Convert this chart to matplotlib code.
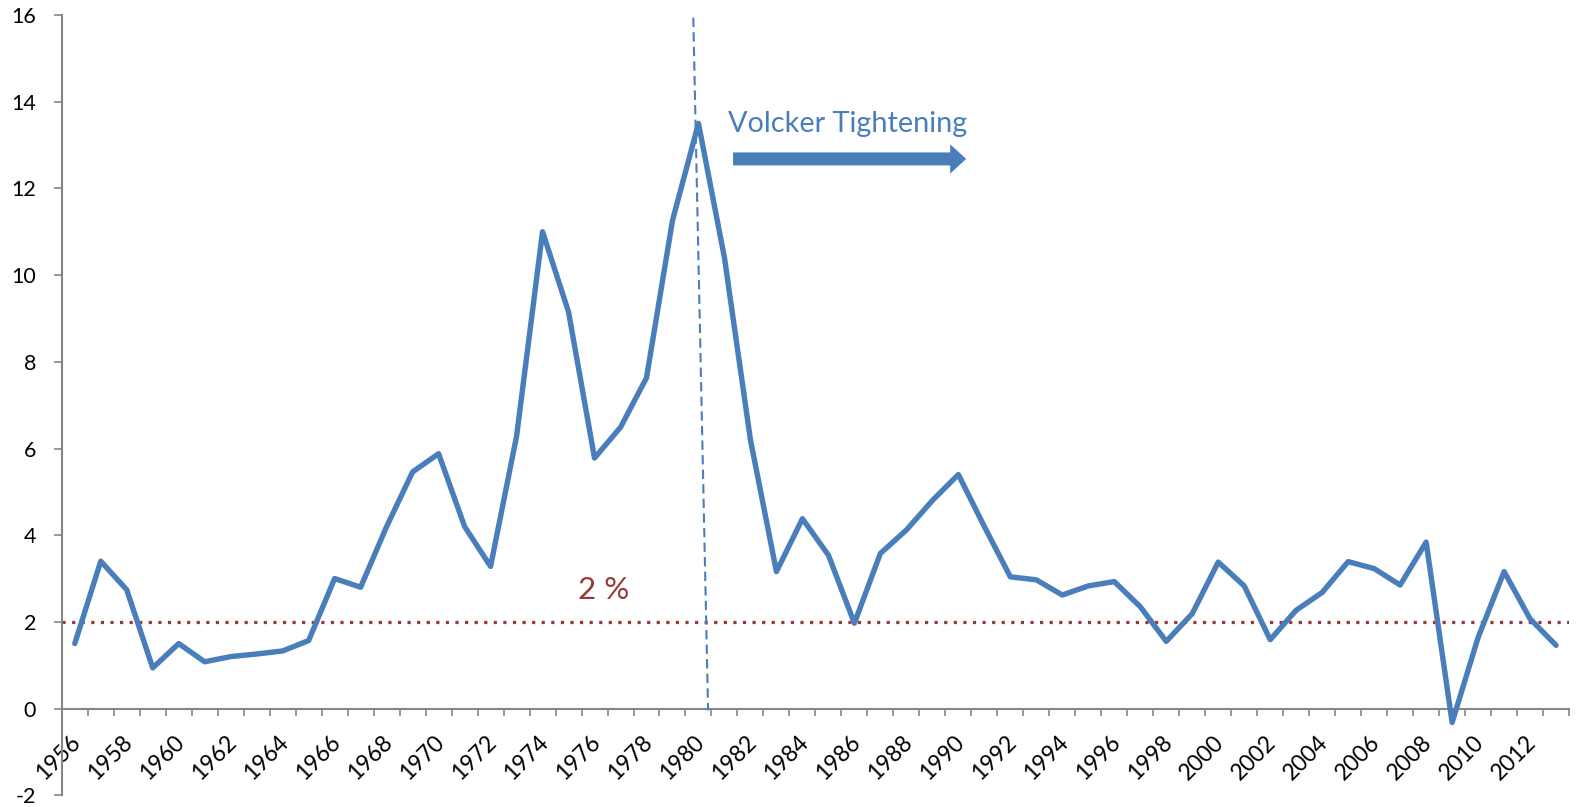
import matplotlib
matplotlib.use("Agg")
import matplotlib.pyplot as plt
from matplotlib.patches import FancyArrow
from matplotlib.transforms import ScaledTranslation

plt.rcParams["font.family"] = ["Lato", "DejaVu Sans"]

# annual inflation, %
years = list(range(1956, 2014))
inflation = [1.50, 3.40, 2.74, 0.94, 1.50, 1.08, 1.20, 1.26, 1.33, 1.57,
             3.00, 2.80, 4.20, 5.46, 5.88, 4.20, 3.28, 6.28, 11.00, 9.15,
             5.78, 6.49, 7.63, 11.26, 13.50, 10.40, 6.20, 3.16, 4.38, 3.54,
             1.97, 3.58, 4.12, 4.80, 5.40, 4.20, 3.04, 2.97, 2.62, 2.83,
             2.93, 2.35, 1.55, 2.19, 3.38, 2.83, 1.59, 2.27, 2.68, 3.39,
             3.23, 2.85, 3.84, -0.32, 1.64, 3.16, 2.07, 1.46]
target = 2.0
y_ticks = list(range(-2, 17, 2))

blue = "#4A7EBB"
red = "#973A37"
grey = "#868686"

fig = plt.figure(figsize=(15.92, 8.07), dpi=100)
ax = fig.add_axes([0.0388, 0.0145, 0.9468, 0.9669])

pos = list(range(len(years)))
ax.plot(pos, inflation, color=blue, lw=3.9, solid_joinstyle="round",
        solid_capstyle="round", zorder=3)
ax.axhline(target, color=red, lw=2.3, ls=(0, (1, 2)), zorder=2)

# Volcker marker line (slightly slanted as in the original)
ax.plot([23.8, 24.37], [15.94, -0.04], color=blue, lw=1.5,
        ls=(0, (4.5, 2.5)), zorder=4)

ax.text(20.35, 2.73, "2 %", color=red, fontsize=22.5, ha="center", va="center")
ax.text(25.15, 13.31, "Volcker Tightening", color=blue, fontsize=20.8,
        ha="left", va="baseline")
ax.add_patch(FancyArrow(25.33, 12.68, 8.97, 0, width=0.30, head_width=0.676,
                        head_length=0.615, length_includes_head=True,
                        color=blue, lw=0))

ax.set_xlim(-0.5, len(years) - 0.5)
ax.set_ylim(-2, 16)

for s in ["top", "right"]:
    ax.spines[s].set_visible(False)
ax.spines["bottom"].set_position(("data", 0))
for s in ["left", "bottom"]:
    ax.spines[s].set_color(grey)
    ax.spines[s].set_linewidth(1.5)

ax.set_yticks(y_ticks, [str(v) for v in y_ticks])
ax.tick_params(axis="y", direction="out", length=5.5, width=1.2, color=grey,
               pad=13, labelsize=15.5)

# tick marks between categories, labels on every second year
ax.set_xticks([p - 0.5 for p in range(len(years) + 1)])
ax.set_xticklabels([])
ax.tick_params(axis="x", which="major", direction="out", length=5,
               width=1.2, color=grey)
ax.tick_params(axis="x", which="minor", length=0, pad=16.5)
ax.set_xticks(pos[::2], [str(y) for y in years[::2]], minor=True,
              rotation=45, ha="right", va="top", rotation_mode="anchor",
              fontsize=16.5)
shift = ScaledTranslation(-5 / 100, 0, fig.dpi_scale_trans)
for lab in ax.get_xticklabels(minor=True):
    lab.set_transform(lab.get_transform() + shift)

fig.savefig("out.png", dpi=100)
